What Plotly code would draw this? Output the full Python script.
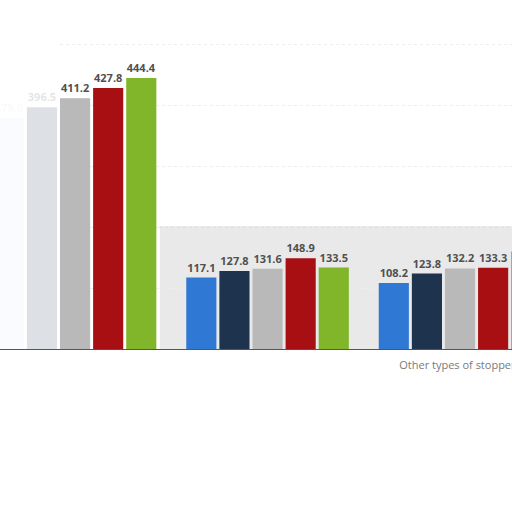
import plotly.graph_objects as go

# closure types (groups) and yearly series
categories = ["Natural cork", "Synthetic stoppers", "Other types of stoppers"]
series_names = ["2014", "2015", "2016", "2017", "2018"]
series_colors = ["#2f78d4", "#1e334d", "#b9b9b9", "#a80f12", "#82b62a"]

s2014 = [379.0, 117.1, 108.2]
s2015 = [396.5, 127.8, 123.8]
s2016 = [411.2, 131.6, 132.2]
s2017 = [427.8, 148.9, 133.3]
s2018 = [444.4, 133.5, 160.0]
values = [s2014, s2015, s2016, s2017, s2018]

fig = go.Figure()
for name, color, vals in zip(series_names, series_colors, values):
    fig.add_trace(go.Bar(
        x=categories,
        y=vals,
        name=name,
        marker=dict(color=color, line=dict(width=0)),
        text=[f"{v:.1f}" for v in vals],
        textposition="outside",
        cliponaxis=False,
        textfont=dict(family="Open Sans", size=11, color="#505050", weight="bold"),
    ))

# light grey panel behind the two smaller groups
fig.add_shape(type="rect", xref="x", yref="y", x0=0.44, x1=2.4, y0=0, y1=200,
              fillcolor="#e9e9e9", line=dict(width=0), layer="below")
fig.add_shape(type="line", xref="x", yref="y", x0=0.44, x1=2.4, y0=200, y1=200,
              line=dict(color="#d2d2d2", width=1), layer="below")
# faded left edge (two stacked white veils)
fig.add_shape(type="rect", xref="paper", yref="paper", x0=0, x1=0.113, y0=0, y1=1,
              fillcolor="white", opacity=0.85, line=dict(width=0), layer="above")
fig.add_shape(type="rect", xref="paper", yref="paper", x0=0, x1=0.05, y0=0, y1=1,
              fillcolor="white", opacity=0.8, line=dict(width=0), layer="above")

fig.update_layout(
    width=512, height=512,
    margin=dict(l=0, r=0, t=0, b=163),
    paper_bgcolor="white", plot_bgcolor="white",
    barmode="group", bargap=0.14, bargroupgap=0.09,
    showlegend=False,
    font=dict(family="Open Sans", size=11, color="#777777"),
)
fig.update_xaxes(
    range=[-0.39, 2.27],
    tickvals=[categories[2]],
    showline=True, linecolor="#555555", linewidth=1,
    ticks="", tickfont=dict(size=11, color="#7a7a7a"),
    ticklabelstandoff=6,
    automargin=False,
    showgrid=False,
)
fig.update_yaxes(
    range=[0, 572.3],
    showticklabels=False,
    dtick=100,
    showgrid=True, gridcolor="#ededed", griddash="dot",
    zeroline=False,
    automargin=False,
)

# no page margin, so the 512x512 figure fills the window
fig.write_html("out.html",
               config={"displayModeBar": False},
               post_script="document.body.style.margin='0';document.body.style.overflow='hidden';")
